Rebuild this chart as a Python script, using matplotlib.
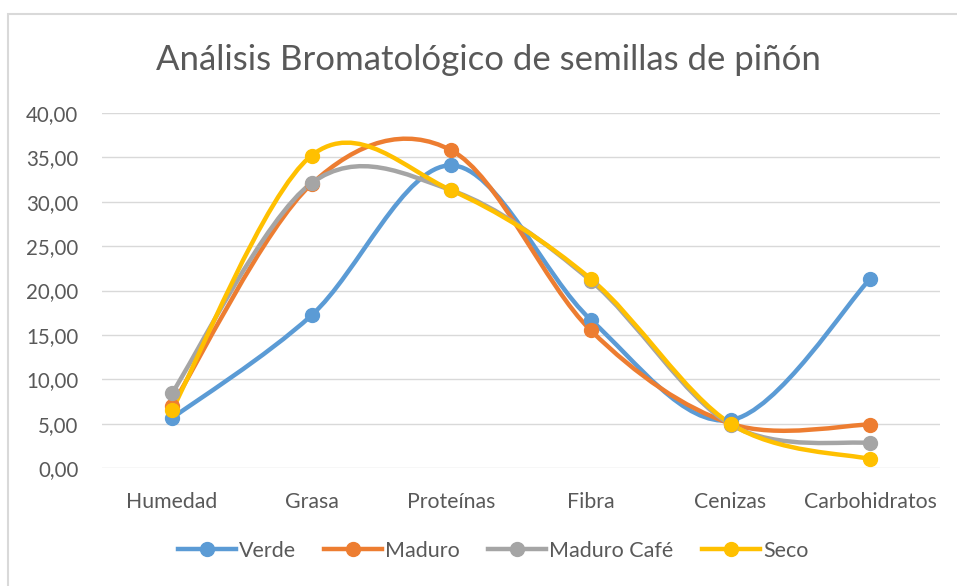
import numpy as np
import matplotlib
matplotlib.use("Agg")
import matplotlib.pyplot as plt
from matplotlib.path import Path
from matplotlib.patches import PathPatch, Rectangle
from matplotlib.lines import Line2D

plt.rcParams['font.family'] = ['Lato', 'DejaVu Sans']

categories = ["Humedad", "Grasa", "Proteínas", "Fibra", "Cenizas", "Carbohidratos"]
verde = [5.6, 17.2, 34.1, 16.7, 5.4, 21.3]
maduro = [7.0, 32.0, 35.8, 15.5, 5.0, 4.9]
maduro_cafe = [8.4, 32.1, 31.3, 21.1, 4.9, 2.8]
seco = [6.5, 35.2, 31.3, 21.3, 5.0, 1.0]

series = [("Verde", verde, "#5B9BD5"),
          ("Maduro", maduro, "#ED7D31"),
          ("Maduro Café", maduro_cafe, "#A5A5A5"),
          ("Seco", seco, "#FFC000")]

W, H = 957, 586
fig = plt.figure(figsize=(W / 100, H / 100), dpi=100)
ax = fig.add_axes([102 / W, 1 - 468 / H, (940 - 102) / W, (468 - 113) / H])

# outer chart border (left and top visible)
fig.patches.append(Rectangle((8 / W, -0.1), 1.2, 1 - 14 / H + 0.1, transform=fig.transFigure,
                             fill=False, edgecolor="#D9D9D9", linewidth=1.5))

def smooth_path(xs, ys):
    pts = np.column_stack([xs, ys]).astype(float)
    n = len(pts)
    verts = [pts[0]]
    codes = [Path.MOVETO]
    for i in range(n - 1):
        p0 = pts[i - 1] if i > 0 else pts[i]
        p1 = pts[i]
        p2 = pts[i + 1]
        p3 = pts[i + 2] if i + 2 < n else pts[i + 1]
        c1 = p1 + (p2 - p0) / 6.0
        c2 = p2 - (p3 - p1) / 6.0
        verts += [c1, c2, p2]
        codes += [Path.CURVE4] * 3
    return Path(verts, codes)

x = np.arange(len(categories))
for name, vals, col in series:
    ax.add_patch(PathPatch(smooth_path(x, vals), facecolor="none", edgecolor=col,
                           linewidth=3.2, capstyle="round", joinstyle="round", zorder=3))
    ax.plot(x, vals, linestyle="none", marker="o", markersize=10, color=col, zorder=4)

ax.set_xlim(-0.5, len(categories) - 0.5)
ax.set_ylim(0, 40)
ax.set_yticks(np.arange(0, 41, 5))
ax.set_yticklabels([f"{v:.2f}".replace(".", ",") for v in np.arange(0, 41, 5)])
ax.set_xticks(x)
ax.set_xticklabels(categories, fontsize=15.3)
ax.tick_params(axis="both", length=0, labelcolor="#595959")
ax.tick_params(axis="y", pad=17, labelsize=14.8)
ax.tick_params(axis="x", pad=17)
ax.grid(axis="y", color="#D9D9D9", linewidth=1)
ax.set_axisbelow(True)
for s in ax.spines.values():
    s.set_visible(False)

fig.text(488 / W, 1 - 60 / H, "Análisis Bromatológico de semillas de piñón",
         ha="center", va="center", fontsize=25, color="#595959")

handles = [Line2D([0], [0], color=c, linewidth=3.2, marker="o", markersize=10) for _, _, c in series]
fig.legend(handles, [n for n, _, _ in series], loc="center", bbox_to_anchor=(493 / W, 1 - 551 / H),
           ncol=4, frameon=False, fontsize=15.5, labelcolor="#595959", handlelength=2.7,
           handletextpad=0.15, columnspacing=1.3)

fig.savefig("out.png", dpi=100, facecolor="white")
